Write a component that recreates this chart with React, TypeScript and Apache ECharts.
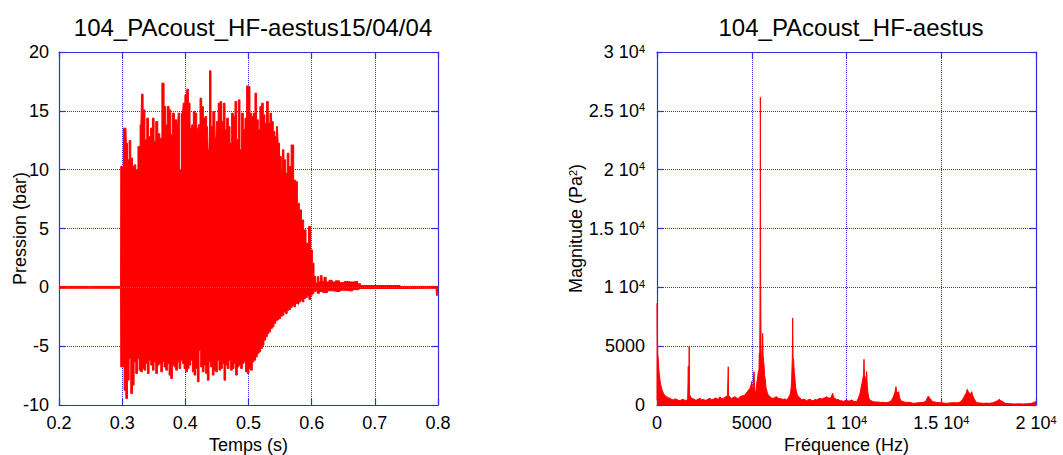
import { useEffect, useRef } from 'react';
import * as echarts from 'echarts';

// Pressure signal envelope (time s, pressure bar)
const pressureUpper: [number, number][] = [
  [0.2, 0.08], [0.2975, 0.08],
  [0.2981, 10.27], [0.3018, 10.27], [0.3028, 13.53], [0.306, 13.53], [0.3071, 12.25], [0.3097, 10.84],
  [0.3123, 12.48], [0.315, 10.98], [0.3176, 10.27], [0.3202, 10.41], [0.3229, 9.99], [0.3271, 11.97],
  [0.3297, 13.81], [0.3318, 16.42], [0.3345, 15.08], [0.3376, 12.54], [0.3403, 14.38], [0.3429, 12.82],
  [0.3466, 13.53], [0.3492, 14.38], [0.3518, 12.39], [0.3545, 14.09], [0.3582, 13.05], [0.3608, 12.68],
  [0.365, 17.35], [0.3677, 15.37], [0.3703, 13.81], [0.3729, 15.37], [0.3756, 15.08], [0.3782, 12.96],
  [0.3808, 14.8], [0.3845, 14.24], [0.3877, 13.81], [0.3898, 14.8], [0.3924, 9.99], [0.3956, 14.8],
  [0.3977, 15.65], [0.4009, 16.36], [0.4035, 16.84], [0.4061, 15.65], [0.4088, 13.53], [0.4114, 13.81],
  [0.414, 14.94], [0.4167, 14.8], [0.4193, 13.53], [0.4219, 13.81], [0.4246, 16.08], [0.4272, 15.37],
  [0.4298, 14.38], [0.4325, 14.52], [0.4351, 13.67], [0.4372, 11.69], [0.4393, 18.4], [0.442, 13.67],
  [0.4451, 14.94], [0.4483, 12.68], [0.4504, 14.09], [0.4536, 15.65], [0.4562, 15.79], [0.4588, 14.09],
  [0.4615, 15.65], [0.4641, 13.39], [0.4667, 14.38], [0.4694, 13.67], [0.472, 12.25], [0.4746, 14.8],
  [0.4773, 14.52], [0.4799, 15.79], [0.4825, 12.54], [0.4852, 15.93], [0.4878, 11.69], [0.4904, 14.8],
  [0.4931, 13.39], [0.4957, 14.38], [0.4984, 17.12], [0.501, 17.07], [0.5036, 14.8], [0.5063, 14.52],
  [0.5089, 14.8], [0.5115, 16.5], [0.5142, 14.24], [0.5168, 13.39], [0.5194, 15.37], [0.5221, 15.65],
  [0.5247, 14.66], [0.5273, 13.95], [0.53, 15.79], [0.5326, 13.95], [0.5352, 14.8], [0.5379, 14.09],
  [0.5405, 13.24], [0.5431, 12.82], [0.5458, 13.67], [0.5479, 12.25], [0.5505, 11.12], [0.5531, 9.7],
  [0.5547, 11.69], [0.5574, 10.84], [0.56, 9.7], [0.5626, 11.4], [0.5653, 10.27], [0.5697, 12.1],
  [0.5734, 9.1], [0.576, 8.98], [0.5787, 7.14], [0.5823, 6.58], [0.5855, 5.73], [0.5892, 4.88],
  [0.5929, 3.75], [0.5971, 5.16], [0.5998, 3.18], [0.6024, 2.05], [0.605, 0.92], [0.6077, 0.36],
  [0.61, 0.9], [0.6125, 0.45], [0.615, 1.0], [0.618, 0.5], [0.621, 0.85], [0.625, 0.45], [0.63, 0.6],
  [0.635, 0.45], [0.64, 0.55], [0.648, 0.4], [0.655, 0.5], [0.662, 0.45], [0.67, 0.5], [0.675, 0.3],
  [0.68, 0.15], [0.8, 0.08],
];

const pressureLower: [number, number][] = [
  [0.2, -0.08], [0.2975, -0.08],
  [0.2981, -6.76], [0.3018, -6.76], [0.3044, -8.74], [0.3071, -9.45], [0.3097, -7.89], [0.3123, -6.05],
  [0.315, -9.02], [0.3176, -8.31], [0.3202, -6.33], [0.3229, -7.32], [0.3255, -6.05], [0.3281, -7.04],
  [0.3308, -7.18], [0.3334, -6.9], [0.336, -7.04], [0.3387, -6.47], [0.3413, -7.32], [0.3439, -6.19],
  [0.3466, -6.61], [0.3492, -7.04], [0.3518, -6.33], [0.3545, -7.32], [0.3571, -6.61], [0.3598, -6.47],
  [0.3624, -7.18], [0.365, -6.33], [0.3677, -6.76], [0.3703, -7.04], [0.3729, -6.47], [0.3756, -7.46],
  [0.3782, -7.75], [0.3808, -6.61], [0.3835, -6.76], [0.3861, -7.04], [0.3887, -6.33], [0.3914, -6.9],
  [0.394, -6.19], [0.3966, -6.47], [0.3993, -6.9], [0.4019, -7.18], [0.4045, -6.9], [0.4072, -6.61],
  [0.4098, -6.19], [0.4124, -7.18], [0.4151, -7.46], [0.4177, -6.9], [0.4204, -8.03], [0.423, -5.34],
  [0.4256, -6.76], [0.4283, -7.18], [0.4309, -6.61], [0.4335, -7.32], [0.4362, -7.89], [0.4388, -6.33],
  [0.4414, -6.76], [0.4441, -7.46], [0.4467, -7.04], [0.4493, -7.18], [0.452, -6.19], [0.4546, -7.04],
  [0.4572, -6.9], [0.4599, -6.47], [0.4625, -7.89], [0.4651, -6.61], [0.4678, -6.9], [0.4704, -6.19],
  [0.4731, -7.04], [0.4757, -6.9], [0.4783, -6.47], [0.481, -7.46], [0.4836, -6.76], [0.4862, -6.61],
  [0.4889, -6.9], [0.4915, -6.47], [0.4941, -6.33], [0.4968, -7.18], [0.4994, -7.32], [0.502, -6.9],
  [0.5047, -7.04], [0.5073, -6.33], [0.5099, -6.19], [0.5126, -5.91], [0.5152, -5.62], [0.5178, -5.48],
  [0.5205, -5.2], [0.5231, -4.92], [0.5258, -4.49], [0.5284, -4.21], [0.531, -3.92], [0.5337, -3.78],
  [0.5363, -3.5], [0.5389, -3.36], [0.5416, -3.07], [0.5442, -2.85], [0.5468, -2.73], [0.5495, -2.65],
  [0.5521, -2.45], [0.5547, -2.37], [0.5574, -2.08], [0.56, -2.22], [0.5626, -1.94], [0.5653, -1.88],
  [0.5679, -1.71], [0.5705, -1.52], [0.5732, -1.66], [0.5758, -1.37], [0.5785, -1.43], [0.5811, -1.23],
  [0.5837, -1.09], [0.5864, -1.23], [0.589, -0.95], [0.5916, -0.86], [0.5943, -0.75], [0.5969, -1.03],
  [0.5995, -0.67], [0.6022, -0.52], [0.6048, -0.35], [0.6074, -0.3],
  [0.61, -0.5], [0.615, -0.35], [0.62, -0.45], [0.63, -0.3], [0.64, -0.35], [0.65, -0.25], [0.66, -0.3],
  [0.67, -0.2], [0.68, -0.1], [0.797, -0.08], [0.798, -0.7], [0.7995, -0.7], [0.8, -0.08],
];

// Spectrum (frequency Hz, magnitude Pa^2)
const spectrum: [number, number][] = [
  [0, 400], [8, 8650], [20, 6000], [40, 4300], [71, 3800], [100, 3000], [130, 2500], [158, 2100], [200, 1700],
  [246, 1400], [290, 1200], [334, 1000], [420, 800], [510, 700], [600, 620], [686, 570], [770, 480], [862, 430],
  [950, 520], [1038, 480], [1120, 400], [1214, 370], [1300, 450], [1389, 480], [1480, 380], [1565, 420],
  [1620, 500], [1653, 3300], [1670, 600], [1700, 5000], [1715, 900], [1776, 710], [1850, 500], [1917, 560],
  [2000, 420], [2093, 420], [2180, 520], [2269, 560], [2350, 450], [2445, 480], [2530, 400], [2621, 430],
  [2700, 520], [2797, 560], [2880, 450], [2973, 480], [3060, 600], [3148, 560], [3240, 480], [3324, 700],
  [3410, 520], [3500, 560], [3570, 650], [3641, 710], [3720, 800], [3760, 3250], [3775, 700], [3817, 760],
  [3880, 600], [3940, 560], [4030, 650], [4116, 710], [4200, 600], [4292, 560], [4380, 700], [4468, 760],
  [4560, 800], [4644, 850], [4700, 1000], [4767, 1130], [4840, 1300], [4908, 1420], [4960, 1700], [4996, 2000],
  [5020, 1500], [5048, 990], [5080, 1800], [5119, 2830], [5150, 1600], [5189, 850], [5230, 1300], [5260, 1840],
  [5300, 2200], [5348, 2830], [5380, 3000], [5400, 4390], [5420, 3500], [5440, 10030], [5455, 26150],
  [5470, 10030], [5490, 5000], [5520, 3400], [5550, 3800], [5576, 6090], [5600, 4200], [5646, 3400],
  [5680, 2500], [5716, 2125], [5750, 1500], [5787, 1275], [5830, 1000], [5875, 850], [5920, 760], [5963, 710],
  [6050, 600], [6139, 560], [6230, 650], [6315, 710], [6400, 560], [6490, 560], [6580, 500], [6666, 480],
  [6750, 520], [6842, 430], [6930, 600], [7018, 850], [7070, 1300], [7106, 2125], [7140, 4000], [7159, 7400],
  [7180, 4000], [7212, 3825], [7240, 2800], [7265, 2550], [7300, 1800], [7335, 1275], [7400, 900], [7458, 710],
  [7550, 600], [7634, 430], [7750, 500], [7898, 370], [7980, 450], [8074, 480], [8160, 400], [8250, 370],
  [8340, 480], [8426, 430], [8510, 520], [8601, 570], [8690, 500], [8777, 570], [8870, 620], [8953, 710],
  [9040, 600], [9129, 570], [9200, 700], [9270, 1000], [9330, 600], [9393, 570], [9480, 450], [9569, 480],
  [9657, 350], [9745, 370], [9830, 300], [9921, 370], [10009, 368], [10140, 330], [10273, 425], [10400, 300],
  [10536, 283], [10624, 566], [10700, 900], [10747, 1275], [10800, 1700], [10853, 2125], [10900, 2600],
  [10923, 3880], [10950, 2200], [10976, 2408], [11020, 1800], [11064, 2833], [11100, 1500], [11134, 991],
  [11180, 600], [11240, 425], [11330, 340], [11416, 283], [11550, 250], [11680, 255], [11800, 220],
  [11943, 230], [12070, 200], [12207, 230], [12300, 300], [12383, 425], [12450, 600], [12506, 850],
  [12560, 1100], [12612, 1558], [12650, 1000], [12682, 1100], [12720, 900], [12752, 1133], [12800, 600],
  [12858, 425], [12930, 300], [12998, 283], [13130, 220], [13262, 240], [13400, 200], [13526, 142],
  [13700, 180], [13878, 200], [14050, 220], [14194, 340], [14260, 600], [14317, 765], [14380, 600],
  [14440, 510], [14500, 350], [14581, 283], [14750, 220], [14933, 200], [15100, 170], [15285, 142],
  [15450, 180], [15637, 200], [15800, 180], [15988, 230], [16060, 350], [16129, 482], [16190, 650],
  [16252, 850], [16310, 1000], [16375, 1331], [16430, 1100], [16481, 1048], [16540, 900], [16604, 1133],
  [16660, 800], [16727, 566], [16800, 350], [16868, 200], [17050, 170], [17220, 142], [17400, 160],
  [17572, 142], [17700, 200], [17836, 255], [17950, 350], [18064, 482], [18130, 380], [18188, 340],
  [18280, 250], [18364, 142], [18600, 120], [18803, 85], [19100, 100], [19331, 85], [19550, 110],
  [19771, 142], [19900, 220], [19947, 283], [20000, 250],
];

const timeTickValues = [0.2, 0.3, 0.4, 0.5, 0.6, 0.7, 0.8];
const timeTickLabels = ['0.2', '0.3', '0.4', '0.5', '0.6', '0.7', '0.8'];
const pressureTickValues = [-10, -5, 0, 5, 10, 15, 20];
const pressureTickLabels = ['-10', '-5', '0', '5', '10', '15', '20'];
const specTickValues = [0, 5000, 10000, 15000, 20000, 25000, 30000];
const specTickLabels = ['0', '5000', '1 10{sup|4}', '1.5 10{sup|4}', '2 10{sup|4}', '2.5 10{sup|4}', '3 10{sup|4}'];

const FONT = '"Liberation Sans", Arial, Helvetica, sans-serif';
const AXIS_BLUE = '#2f2fe0';
const GRID_BLUE = '#2e2ee2';
const RED = '#ff0000';

const pick = (vals: number[], labels: string[]) => (v: number) => {
  const i = vals.findIndex((x) => Math.abs(x - v) < 1e-6 * Math.max(1, Math.abs(x)));
  return i >= 0 ? labels[i] : '';
};

const rich = {
  sup: { fontSize: 11, fontFamily: FONT, color: '#000', verticalAlign: 'top' as const },
};

function axisBase(gridIndex: number) {
  return {
    gridIndex,
    nameMoveOverlap: false,
    axisLine: { show: true, onZero: false, lineStyle: { color: AXIS_BLUE, width: 1.2 } },
    axisTick: { show: true, inside: true, length: 6, lineStyle: { color: AXIS_BLUE, width: 1.2 } },
  };
}

export default function App() {
  const ref = useRef<HTMLDivElement>(null);
  useEffect(() => {
    document.body.style.margin = '0';
    if (!ref.current) return;
    const chart = echarts.init(ref.current, null, { renderer: 'svg' });
    const labelStyle = { color: '#000', fontSize: 18, fontFamily: FONT, rich };
    const nameStyle = { color: '#000', fontSize: 18, fontFamily: FONT, rich };
    const split = { show: true, lineStyle: { color: GRID_BLUE, type: 'dotted' as const, width: 1 } };
    chart.setOption({
      animation: false,
      backgroundColor: '#fff',
      title: [
        { text: '104_PAcoust_HF-aestus15/04/04', left: 248, top: 10, textAlign: 'center', textStyle: { fontSize: 24, fontWeight: 'normal', fontFamily: FONT, color: '#000' } },
        { text: '104_PAcoust_HF-aestus', left: 846, top: 10, textAlign: 'center', textStyle: { fontSize: 24, fontWeight: 'normal', fontFamily: FONT, color: '#000' } },
      ],
      grid: [
        { left: 59, top: 52, width: 379, height: 353, outerBoundsMode: 'none', containLabel: false },
        { left: 657, top: 52, width: 379, height: 353, outerBoundsMode: 'none', containLabel: false },
      ],
      xAxis: [
        {
          ...axisBase(0), type: 'value', position: 'bottom', min: 0.2, max: 0.8, interval: 0.1,
          axisLabel: { ...labelStyle, margin: 9, formatter: pick(timeTickValues, timeTickLabels) },
          splitLine: split,
          name: 'Temps (s)', nameLocation: 'middle', nameGap: 31, nameTextStyle: nameStyle,
        },
        { ...axisBase(0), type: 'value', position: 'top', min: 0.2, max: 0.8, interval: 0.1, axisLabel: { show: false }, splitLine: { show: false } },
        {
          ...axisBase(1), type: 'value', position: 'bottom', min: 0, max: 20000, interval: 5000,
          axisLabel: { ...labelStyle, margin: 9, formatter: pick(specTickValues, specTickLabels) },
          splitLine: split,
          name: 'Fréquence (Hz)', nameLocation: 'middle', nameGap: 31, nameTextStyle: nameStyle,
        },
        { ...axisBase(1), type: 'value', position: 'top', min: 0, max: 20000, interval: 5000, axisLabel: { show: false }, splitLine: { show: false } },
      ],
      yAxis: [
        {
          ...axisBase(0), type: 'value', position: 'left', min: -10, max: 20, interval: 5,
          axisLabel: { ...labelStyle, margin: 10, formatter: pick(pressureTickValues, pressureTickLabels) },
          splitLine: split,
          name: 'Pression (bar)', nameLocation: 'middle', nameGap: 30, nameTextStyle: nameStyle,
        },
        { ...axisBase(0), type: 'value', position: 'right', min: -10, max: 20, interval: 5, axisLabel: { show: false }, splitLine: { show: false } },
        {
          ...axisBase(1), type: 'value', position: 'left', min: 0, max: 30000, interval: 5000,
          axisLabel: { ...labelStyle, margin: 12, formatter: pick(specTickValues, specTickLabels) },
          splitLine: split,
          name: 'Magnitude (Pa{sup|2})', nameLocation: 'middle', nameGap: 72, nameTextStyle: nameStyle,
        },
        { ...axisBase(1), type: 'value', position: 'right', min: 0, max: 30000, interval: 5000, axisLabel: { show: false }, splitLine: { show: false } },
      ],
      series: [
        {
          type: 'line', xAxisIndex: 0, yAxisIndex: 0, data: pressureUpper, step: 'middle', symbol: 'none',
          lineStyle: { color: RED, width: 1 }, areaStyle: { color: RED, opacity: 1 }, z: 3,
        },
        {
          type: 'line', xAxisIndex: 0, yAxisIndex: 0, data: pressureLower, step: 'middle', symbol: 'none',
          lineStyle: { color: RED, width: 1 }, areaStyle: { color: RED, opacity: 1 }, z: 3,
        },
        {
          type: 'line', xAxisIndex: 2, yAxisIndex: 2, data: spectrum, symbol: 'none',
          lineStyle: { color: RED, width: 1 }, areaStyle: { color: RED, opacity: 1 }, z: 3,
        },
      ],
    });
    return () => chart.dispose();
  }, []);
  return <div ref={ref} style={{ width: 1063, height: 455 }} />;
}
